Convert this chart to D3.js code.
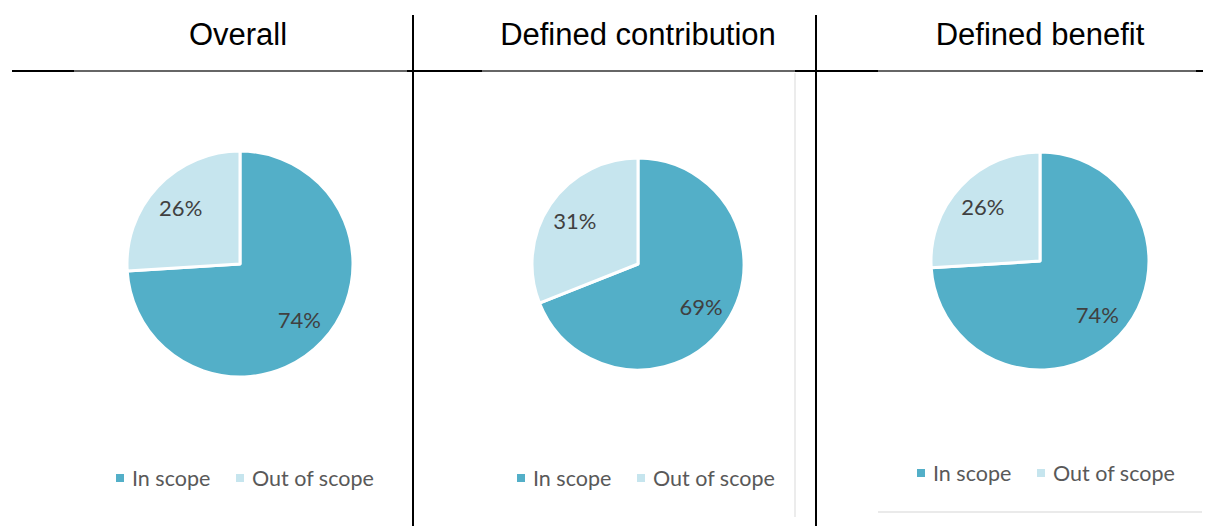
<!DOCTYPE html>
<html>
<head>
<meta charset="utf-8">
<script src="https://cdn.jsdelivr.net/npm/d3@7"></script>
<style>
  body { margin: 0; background: #fff; }
  svg { display: block; }
</style>
</head>
<body>
<div id="chart"></div>
<script>
// donnees
const categories = ["In scope", "Out of scope"];
const panelTitles = ["Overall", "Defined contribution", "Defined benefit"];
const inScope = [74, 69, 74];
const outOfScope = [26, 31, 26];

const width = 1205, height = 526;
const colors = ["#53afc8", "#c6e5ee"];
// mise en page de chaque panneau
const panels = [
  {cx: 240, cy: 264, r: 113, titleX: 238, legendX: 116, legendY: 478},
  {cx: 638, cy: 264, r: 106, titleX: 638, legendX: 517, legendY: 478},
  {cx: 1040, cy: 261, r: 109, titleX: 1040, legendX: 917, legendY: 473}
];

const svg = d3.select("#chart").append("svg")
    .attr("width", width).attr("height", height);

// lignes du cadre
svg.append("line").attr("x1", 12).attr("x2", 1203).attr("y1", 71).attr("y2", 71)
    .attr("stroke", "#333").attr("stroke-width", 1.5);
[[12, 74], [407, 482], [795, 878], [1196, 1203]].forEach(s => {
  svg.append("line").attr("x1", s[0]).attr("x2", s[1]).attr("y1", 71).attr("y2", 71)
      .attr("stroke", "#000").attr("stroke-width", 2);
});
[413, 816].forEach(x => {
  svg.append("line").attr("x1", x).attr("x2", x).attr("y1", 15).attr("y2", height)
      .attr("stroke", "#000").attr("stroke-width", 2);
});
// traits gris clair
svg.append("line").attr("x1", 795).attr("x2", 795).attr("y1", 73).attr("y2", 517)
    .attr("stroke", "#e6e6e6").attr("stroke-width", 1.5);
svg.append("line").attr("x1", 878).attr("x2", 1202).attr("y1", 512).attr("y2", 512)
    .attr("stroke", "#e3e3e3").attr("stroke-width", 1.5);

const pie = d3.pie().sort(null).value(d => d.value);

panels.forEach((p, i) => {
  const g = svg.append("g");
  g.append("text")
      .attr("x", p.titleX).attr("y", 45)
      .attr("text-anchor", "middle")
      .attr("font-family", "Liberation Sans, Arial, sans-serif")
      .attr("font-size", 31)
      .attr("fill", "#000")
      .text(panelTitles[i]);

  const data = [
    {cat: categories[0], value: inScope[i]},
    {cat: categories[1], value: outOfScope[i]}
  ];
  const arcs = pie(data);
  const arc = d3.arc().innerRadius(0).outerRadius(p.r);
  const pg = g.append("g").attr("transform", `translate(${p.cx},${p.cy})`);
  pg.selectAll("path").data(arcs).enter().append("path")
      .attr("d", arc)
      .attr("fill", (d, j) => colors[j])
      .attr("stroke", "#fff")
      .attr("stroke-width", 3)
      .attr("stroke-linejoin", "round");

  const labelArc = d3.arc().innerRadius(p.r * 0.72).outerRadius(p.r * 0.72);
  pg.selectAll("text").data(arcs).enter().append("text")
      .attr("transform", d => `translate(${labelArc.centroid(d)})`)
      .attr("text-anchor", "middle")
      .attr("dy", "0.36em")
      .attr("font-family", "Lato, sans-serif")
      .attr("font-size", 22)
      .attr("fill", "#404040")
      .text(d => d.data.value + "%");

  // legende
  const lg = g.append("g").attr("transform", `translate(${p.legendX},${p.legendY})`);
  const offsets = [0, 120];
  categories.forEach((c, j) => {
    lg.append("rect")
        .attr("x", offsets[j]).attr("y", -4)
        .attr("width", 8).attr("height", 8)
        .attr("fill", colors[j]);
    lg.append("text")
        .attr("x", offsets[j] + 16).attr("y", 0)
        .attr("dy", "0.36em")
        .attr("font-family", "Lato, sans-serif")
        .attr("font-size", 21.5)
        .attr("fill", "#595959")
        .text(c);
  });
});
</script>
</body>
</html>
